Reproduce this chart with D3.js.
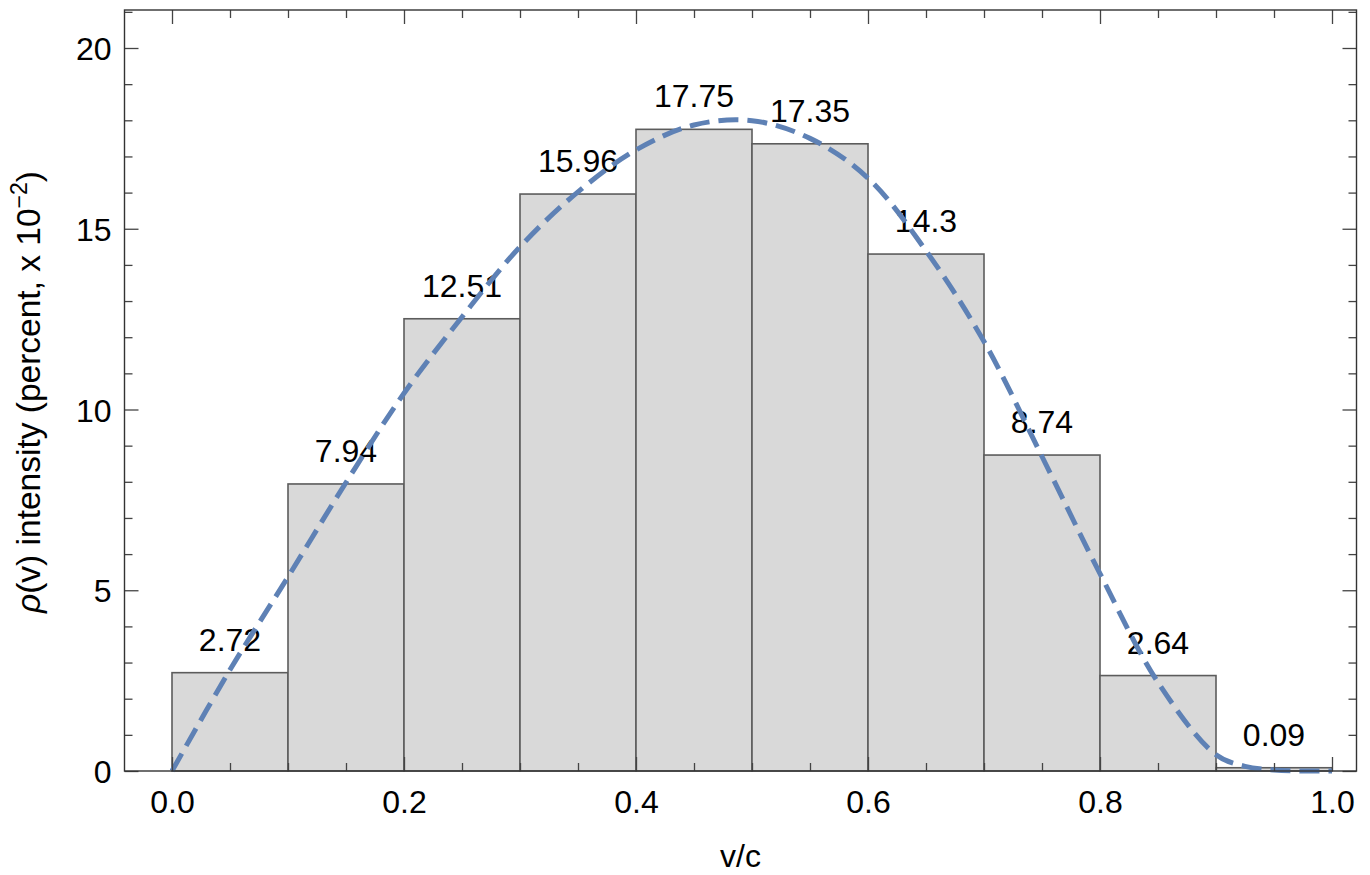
<!DOCTYPE html>
<html>
<head>
<meta charset="utf-8">
<script src="https://cdn.jsdelivr.net/npm/d3@7"></script>
<style>
  body { margin: 0; background: #fff; }
  text { font-family: "Liberation Sans", Arial, sans-serif; }
</style>
</head>
<body>
<svg id="chart" width="1370" height="875"></svg>
<script>
// histogram bins (v/c) and intensities
const binEdges = [0, 0.1, 0.2, 0.3, 0.4, 0.5, 0.6, 0.7, 0.8, 0.9, 1.0];
const intensity = [2.72, 7.94, 12.51, 15.96, 17.75, 17.35, 14.3, 8.74, 2.64, 0.09];
const barLabels = ["2.72", "7.94", "12.51", "15.96", "17.75", "17.35", "14.3", "8.74", "2.64", "0.09"];

// fitted curve
const curveV = [0, 0.05, 0.1, 0.15, 0.2, 0.25, 0.3, 0.35, 0.4, 0.45, 0.5, 0.55, 0.6, 0.65, 0.7, 0.75, 0.8, 0.85, 0.9, 0.925, 0.95, 0.975, 1.0];
const curveRho = [0, 2.8, 5.37, 7.98, 10.45, 12.56, 14.5, 16.02, 17.18, 17.87, 17.99, 17.5, 16.4, 14.39, 11.88, 8.7, 5.46, 2.45, 0.45, 0.13, 0.03, 0, 0];

const xMajor = [0, 0.2, 0.4, 0.6, 0.8, 1.0];
const xMajorLabels = ["0.0", "0.2", "0.4", "0.6", "0.8", "1.0"];
const yMajor = [0, 5, 10, 15, 20];

const svg = d3.select("#chart");

// frame
const fLeft = 124.5, fRight = 1356.5, fTop = 10, fBottom = 771;

const x = d3.scaleLinear().domain([0, 1]).range([172, 1332]);
const y = d3.scaleLinear().domain([0, 20]).range([771, 48]);

const xMinor = d3.range(0, 1.0001, 0.05).filter(v => Math.abs(v * 5 - Math.round(v * 5)) > 1e-6);
const yMinor = d3.range(0, 21.5, 1).filter(v => v % 5 !== 0);

// bars
svg.append("g")
  .selectAll("rect")
  .data(intensity)
  .join("rect")
  .attr("x", (d, i) => x(binEdges[i]))
  .attr("width", (d, i) => x(binEdges[i + 1]) - x(binEdges[i]))
  .attr("y", d => y(d))
  .attr("height", d => y(0) - y(d))
  .attr("fill", "#d9d9d9")
  .attr("stroke", "#5c5c5c")
  .attr("stroke-width", 1.6);

// bar labels
svg.append("g")
  .selectAll("text")
  .data(intensity)
  .join("text")
  .attr("x", (d, i) => x((binEdges[i] + binEdges[i + 1]) / 2))
  .attr("y", d => y(d) - 22)
  .attr("text-anchor", "middle")
  .attr("font-size", 32)
  .attr("fill", "#000")
  .text((d, i) => barLabels[i]);

// dashed curve
const line = d3.line()
  .x(d => x(d[0]))
  .y(d => y(d[1]))
  .curve(d3.curveCatmullRom);

svg.append("path")
  .datum(curveV.map((v, i) => [v, curveRho[i]]))
  .attr("d", line)
  .attr("fill", "none")
  .attr("stroke", "#5e81b5")
  .attr("stroke-width", 5)
  .attr("stroke-dasharray", "20,9");

// ticks on all four sides
function ticks(axis, vals, size, transform, fmt) {
  const g = svg.append("g")
    .attr("transform", transform)
    .call(axis.tickValues(vals).tickSize(size).tickFormat(fmt || ""));
  g.select(".domain").remove();
  g.selectAll("line").attr("stroke", "#444").attr("stroke-width", 1.3);
  return g;
}

const gx = ticks(d3.axisBottom(x), xMajor, -14, `translate(0,${fBottom})`, (d, i) => xMajorLabels[i]);
gx.selectAll("text").attr("font-size", 32).attr("fill", "#000").attr("y", 0).attr("dy", 42);
ticks(d3.axisBottom(x), xMinor, -8, `translate(0,${fBottom})`);
ticks(d3.axisTop(x), xMajor, -14, `translate(0,${fTop})`);
ticks(d3.axisTop(x), xMinor, -8, `translate(0,${fTop})`);

const gy = ticks(d3.axisLeft(y), yMajor, -14, `translate(${fLeft},0)`, d => d);
gy.selectAll("text").attr("font-size", 32).attr("fill", "#000").attr("x", -13).attr("dy", "0.36em");
ticks(d3.axisLeft(y), yMinor, -8, `translate(${fLeft},0)`);
ticks(d3.axisRight(y), yMajor, -14, `translate(${fRight},0)`);
ticks(d3.axisRight(y), yMinor, -8, `translate(${fRight},0)`);

svg.selectAll(".tick text").attr("font-family", "Liberation Sans, Arial, sans-serif");

svg.append("rect")
  .attr("x", fLeft).attr("y", fTop)
  .attr("width", fRight - fLeft).attr("height", fBottom - fTop)
  .attr("fill", "none")
  .attr("stroke", "#333")
  .attr("stroke-width", 1.4);

// axis labels
svg.append("text")
  .attr("x", (fLeft + fRight) / 2)
  .attr("y", 867)
  .attr("text-anchor", "middle")
  .attr("font-size", 32)
  .text("v/c");

const yl = svg.append("text")
  .attr("transform", `translate(40,392) rotate(-90)`)
  .attr("text-anchor", "middle")
  .attr("font-size", 33.5);
yl.append("tspan").attr("font-style", "italic").text("ρ");
yl.append("tspan").text("(v) intensity (percent, x 10");
yl.append("tspan").attr("font-size", 23).attr("dy", -13).text("−2");
yl.append("tspan").attr("dy", 13).text(")");
</script>
</body>
</html>
